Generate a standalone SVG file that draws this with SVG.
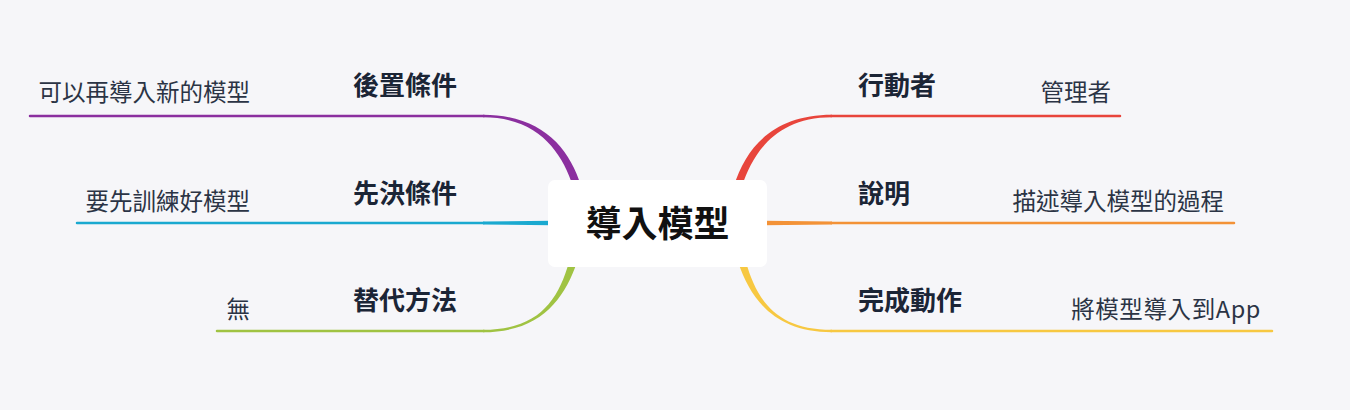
<svg xmlns="http://www.w3.org/2000/svg" width="1350" height="410" viewBox="0 0 1350 410">
  <style>
    .main { font-family: "Noto Sans CJK TC", "Noto Sans", sans-serif; font-size: 26px; font-weight: bold; fill: #1b2536; }
    .sub { font-family: "Noto Sans CJK TC", "Noto Sans", sans-serif; font-size: 23.5px; fill: #2b3445; }
    .center { font-family: "Noto Sans CJK TC", "Noto Sans", sans-serif; font-size: 36px; font-weight: bold; fill: #111111; }
    .thin { fill: none; stroke-width: 2.5; stroke-linecap: round; }
  </style>
  <rect x="0" y="0" width="1350" height="410" fill="#f6f6f9"/>
  <g id="connectors">
    <!-- purple -->
    <line class="thin" x1="30" y1="116" x2="484" y2="116" stroke="#8b2f9f"/>
    <path d="M483,114.8 C541,114.8 569,147 581,186 L573,186 C562,153 539,117.2 483,117.2 Z" fill="#8b2f9f"/>
    <!-- cyan -->
    <line class="thin" x1="77" y1="223" x2="484" y2="223" stroke="#1aa9d0"/>
    <path d="M483,221.6 L552,220.8 L552,225.2 L483,224.4 Z" fill="#1aa9d0"/>
    <!-- green -->
    <line class="thin" x1="217" y1="331" x2="484" y2="331" stroke="#a0c343"/>
    <path d="M483,329.8 C538,329.8 558,301 569,262 L577,262 C564,300 540,332.2 483,332.2 Z" fill="#a0c343"/>
    <!-- red -->
    <line class="thin" x1="831" y1="116" x2="1120" y2="116" stroke="#e8453c"/>
    <path d="M832,114.8 C774,114.8 746,147 734,186 L742,186 C753,153 776,117.2 832,117.2 Z" fill="#e8453c"/>
    <!-- orange -->
    <line class="thin" x1="831" y1="223" x2="1234" y2="223" stroke="#f39237"/>
    <path d="M832,221.6 L763,220.8 L763,225.2 L832,224.4 Z" fill="#f39237"/>
    <!-- yellow -->
    <line class="thin" x1="831" y1="331" x2="1272" y2="331" stroke="#f7c842"/>
    <path d="M832,329.8 C777,329.8 757,301 746,262 L738,262 C751,300 775,332.2 832,332.2 Z" fill="#f7c842"/>
  </g>
  <g id="node-center">
    <rect x="548" y="180" width="219" height="87" rx="7" fill="#ffffff"/>
    <text class="center" x="657.5" y="237" text-anchor="middle">導入模型</text>
  </g>
  <g id="node-postcondition">
    <text class="main" x="457" y="95" text-anchor="end">後置條件</text>
  </g>
  <g id="node-postcondition-detail">
    <text class="sub" x="250" y="101" text-anchor="end">可以再導入新的模型</text>
  </g>
  <g id="node-precondition">
    <text class="main" x="457" y="203" text-anchor="end">先決條件</text>
  </g>
  <g id="node-precondition-detail">
    <text class="sub" x="250" y="210" text-anchor="end">要先訓練好模型</text>
  </g>
  <g id="node-alternative">
    <text class="main" x="457" y="310" text-anchor="end">替代方法</text>
  </g>
  <g id="node-alternative-detail">
    <text class="sub" x="250" y="318" text-anchor="end">無</text>
  </g>
  <g id="node-actor">
    <text class="main" x="858" y="95">行動者</text>
  </g>
  <g id="node-actor-detail">
    <text class="sub" x="1111" y="101" text-anchor="end">管理者</text>
  </g>
  <g id="node-description">
    <text class="main" x="858" y="203">說明</text>
  </g>
  <g id="node-description-detail">
    <text class="sub" x="1224" y="210" text-anchor="end">描述導入模型的過程</text>
  </g>
  <g id="node-completion">
    <text class="main" x="858" y="310">完成動作</text>
  </g>
  <g id="node-completion-detail">
    <text class="sub" x="1261" y="318" text-anchor="end" letter-spacing="0.6">將模型導入到App</text>
  </g>
</svg>
